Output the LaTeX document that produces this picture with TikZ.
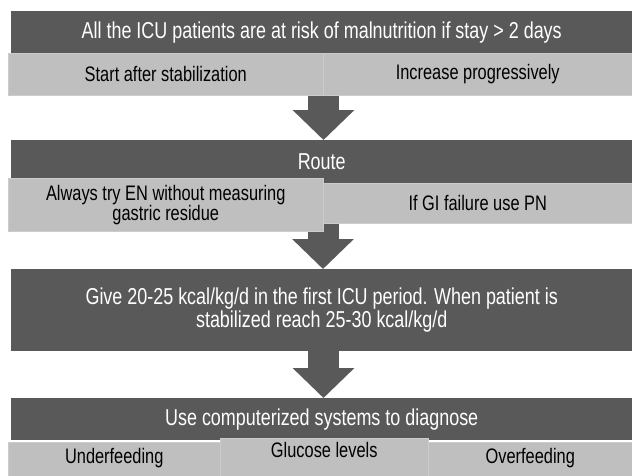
\documentclass[tikz,border=0pt]{standalone}
\usepackage{fontspec}
\setmainfont{Liberation Sans}[FakeStretch=0.78]
\usepackage{tikz}
\usetikzlibrary{arrows.meta,positioning}
\definecolor{boxdark}{RGB}{89,89,89}
\definecolor{boxlight}{RGB}{191,191,191}
\tikzset{head/.style={fill=boxdark,text=white,font=\fontsize{23}{21}\selectfont,minimum width=621pt,inner sep=0pt,anchor=north west,align=center}}
\tikzset{cell/.style={fill=boxlight,draw=black!20,line width=0.5pt,font=\fontsize{21}{20}\selectfont,inner sep=0pt,anchor=north west,align=center}}
\tikzstyle{down}=[draw=boxdark,line width=31pt,-{Triangle[width=60pt,length=30pt]}]

\begin{document}
\begin{tikzpicture}[x=1pt,y=-1pt]
    \useasboundingbox (0,0) rectangle (632,475);
    \node (risk) [head,minimum height=42pt] at (11,11) {All the ICU patients are at risk of malnutrition if stay > 2 days};
    \node (start) [cell,minimum width=315pt,minimum height=42pt] at (8,53) {Start after stabilization};
    \node (incr) [cell,minimum width=309pt,minimum height=42pt] at (323,53) {Increase progressively};
    \node (route) [head,minimum height=43pt] at (11,140) {Route};
    \node (pn) [cell,minimum width=309pt,minimum height=40pt] at (323,183) {If GI failure use PN};
    \node (give) [head,minimum height=82pt] at (11,269) {Give 20-25 kcal/kg/d in the first ICU period. When patient is\\stabilized reach 25-30 kcal/kg/d};
    \node (diag) [head,minimum height=42pt] at (11,398) {Use computerized systems to diagnose};
    \draw[down] (start.south east) -- (start.south east |- route.north);
    \draw[down] (pn.south west) -- (pn.south west |- give.north);
    \draw[down] (start.south east |- give.south) -- (start.south east |- diag.north);
    \node (en) [cell,minimum width=315pt,minimum height=53pt] at (8,178) {Always try EN without measuring\\gastric residue};
    % last row runs off the page
    \node (under) [cell,minimum width=212pt,text height=21pt,text depth=19pt] at (8,442) {Underfeeding};
    \node (over) [cell,minimum width=204pt,text height=21pt,text depth=19pt] at (428,442) {Overfeeding};
    \node (gluc) [cell,minimum width=208pt,text height=19pt,text depth=23pt] at (220,438) {Glucose levels};
\end{tikzpicture}
\end{document}
